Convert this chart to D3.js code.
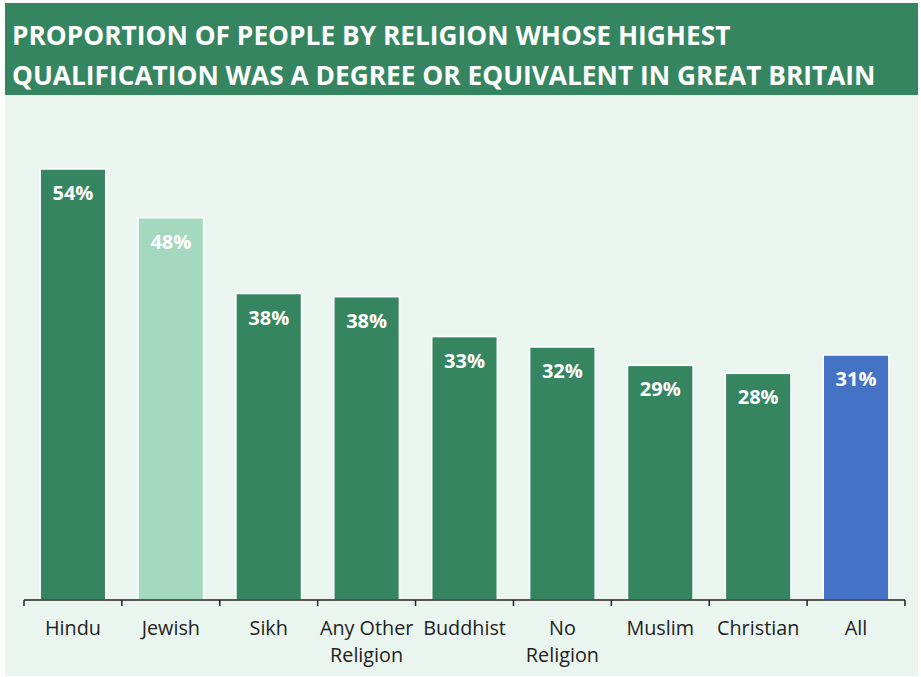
<!DOCTYPE html>
<html><head><meta charset="utf-8">
<script src="https://cdn.jsdelivr.net/npm/d3@7"></script>
<style>body{margin:0;background:#fff;}svg{display:block;font-family:"Open Sans",sans-serif;}</style>
</head><body><svg id="c" width="921" height="677"></svg>
<script>
const categories = ["Hindu","Jewish","Sikh","Any Other Religion","Buddhist","No Religion","Muslim","Christian","All"];
const values = [54.0,47.9,38.4,38.0,33.0,31.7,29.4,28.4,30.7];
const labels = ["54%","48%","38%","38%","33%","32%","29%","28%","31%"];
const barColors = ["#358560","#a5d9bf","#358560","#358560","#358560","#358560","#358560","#358560","#4472c4"];
const titleLines = ["PROPORTION OF PEOPLE BY RELIGION WHOSE HIGHEST","QUALIFICATION WAS A DEGREE OR EQUIVALENT IN GREAT BRITAIN"];

const svg = d3.select("#c");
svg.append("rect").attr("x",5).attr("y",95).attr("width",913).attr("height",581).attr("fill","#ebf5ef");
svg.append("rect").attr("x",5).attr("y",3).attr("width",913).attr("height",92).attr("fill","#358560");
svg.selectAll("text.title").data(titleLines).join("text").attr("class","title")
  .attr("x",12).attr("y",(d,i)=>45+i*40).attr("fill","#fff")
  .attr("font-size",26.3).attr("font-weight",700).text(d=>d);

const x = d3.scaleBand().domain(categories).range([24,905]).paddingInner(0.33).paddingOuter(0.165);
const y = d3.scaleLinear().domain([0,54]).range([600,169]);

svg.selectAll("rect.bar").data(categories).join("rect").attr("class","bar")
  .attr("x",d=>x(d)).attr("width",x.bandwidth())
  .attr("y",(d,i)=>y(values[i])).attr("height",(d,i)=>600-y(values[i]))
  .attr("fill",(d,i)=>barColors[i]).attr("stroke","#fff").attr("stroke-width",1.5);

svg.selectAll("text.val").data(categories).join("text").attr("class","val")
  .attr("x",d=>x(d)+x.bandwidth()/2).attr("y",(d,i)=>y(values[i])+31)
  .attr("text-anchor","middle").attr("fill","#fff").attr("font-weight",700).attr("font-size",20)
  .text((d,i)=>labels[i]);

const ax = svg.append("g");
ax.append("line").attr("x1",24).attr("x2",905).attr("y1",600).attr("y2",600).attr("stroke","#222").attr("stroke-width",1.5);
ax.selectAll("line.t").data([24].concat(categories.slice(1).map(d=>x(d)-x.step()*x.paddingInner()/2)).concat([905]))
  .join("line").attr("class","t").attr("x1",d=>d).attr("x2",d=>d).attr("y1",600).attr("y2",606).attr("stroke","#222").attr("stroke-width",1.5);

const wrapped = {"Any Other Religion":["Any Other","Religion"],"No Religion":["No","Religion"]};
categories.forEach(c=>{
  const lines = wrapped[c] || [c];
  const t = svg.append("text").attr("text-anchor","middle").attr("fill","#222").attr("font-size",19.8);
  lines.forEach((l,i)=>t.append("tspan").attr("x",x(c)+x.bandwidth()/2).attr("y",635+i*27).text(l));
});
</script></body></html>
